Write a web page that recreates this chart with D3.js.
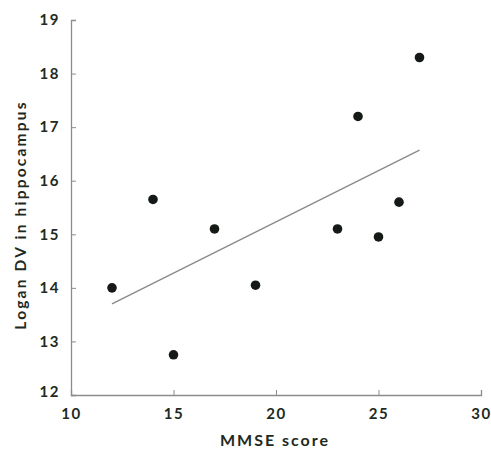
<!DOCTYPE html>
<html>
<head>
<meta charset="utf-8">
<script src="https://cdn.jsdelivr.net/npm/d3@7"></script>
<style>
  body { margin: 0; background: #fff; }
  text { font-family: Lato, "Open Sans", sans-serif; font-weight: bold; fill: #1e2a22; }
</style>
</head>
<body>
<svg id="chart" width="491" height="453"></svg>
<script>
// MMSE score vs Logan DV
const mmse = [12, 14, 15, 17, 19, 23, 24, 25, 26, 27];
const loganDV = [14.0, 15.65, 12.75, 15.1, 14.05, 15.1, 17.2, 14.95, 15.6, 18.3];
const fitX = [12, 27];
const fitY = [13.7, 16.57];
const xTicks = [10, 15, 20, 25, 30];
const yTicks = [12, 13, 14, 15, 16, 17, 18, 19];

const svg = d3.select('#chart');
const plotLeft = 71, plotRight = 481, plotTop = 20, plotBottom = 395;

const x = d3.scaleLinear().domain([10, 30]).range([plotLeft, plotRight]);
const y = d3.scaleLinear().domain([12, 19]).range([plotBottom, plotTop]);

const axisColor = '#8c8c8c';

// ticks point inward on both axes
const xAxis = svg.append('g')
    .attr('transform', `translate(0,${plotBottom})`)
    .call(d3.axisBottom(x).tickValues(xTicks).tickFormat(d3.format('d'))
        .tickSizeInner(-5).tickSizeOuter(-5).tickPadding(10));

const yAxis = svg.append('g')
    .attr('transform', `translate(${plotLeft},0)`)
    .call(d3.axisLeft(y).tickValues(yTicks).tickFormat(d3.format('d'))
        .tickSizeInner(-5).tickSizeOuter(-5).tickPadding(10));

[xAxis, yAxis].forEach(a => {
    a.select('.domain').attr('stroke', axisColor).attr('stroke-width', 1.3);
    a.selectAll('.tick line').attr('stroke', axisColor);
    a.selectAll('.tick text')
        .style('font-size', '15px')
        .style('letter-spacing', '1.5px')
        .attr('fill', '#1e2a22');
});
xAxis.selectAll('.tick text').attr('dy', '0.9em');
yAxis.selectAll('.tick text').attr('dx', '-1px');
yAxis.selectAll('.tick').filter(d => d === 12).select('text').attr('dy', '0.1em');

// regression line
svg.append('line')
    .attr('x1', x(fitX[0])).attr('y1', y(fitY[0]))
    .attr('x2', x(fitX[1])).attr('y2', y(fitY[1]))
    .attr('stroke', '#8a8a8a')
    .attr('stroke-width', 1.3);

// points
svg.selectAll('circle.pt')
    .data(mmse)
    .join('circle')
    .attr('class', 'pt')
    .attr('cx', d => x(d))
    .attr('cy', (d, i) => y(loganDV[i]))
    .attr('r', 4.8)
    .attr('fill', '#151a17');

// axis titles
svg.append('text')
    .attr('x', 275)
    .attr('y', 446)
    .attr('text-anchor', 'middle')
    .style('font-size', '16px')
    .style('letter-spacing', '2px')
    .text('MMSE score');

svg.append('text')
    .attr('transform', 'translate(26,215) rotate(-90)')
    .attr('text-anchor', 'middle')
    .style('font-size', '15.5px')
    .style('letter-spacing', '2.2px')
    .text('Logan DV in hippocampus');
</script>
</body>
</html>
